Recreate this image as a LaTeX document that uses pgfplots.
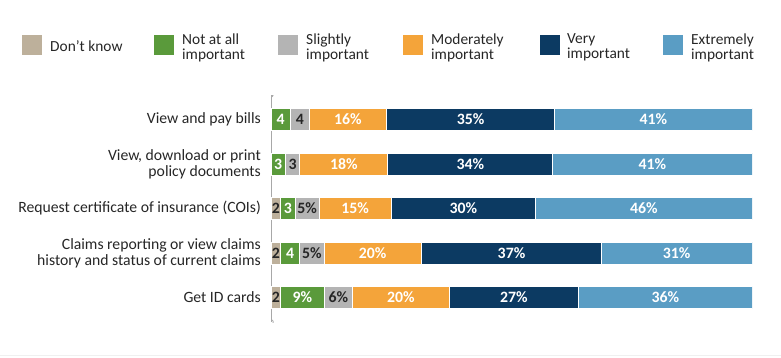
\documentclass[border=0pt]{standalone}
\usepackage{fontspec}
\setmainfont{Carlito}
\usepackage{pgfplots}
\usepackage{pgfplotstable}
\pgfplotsset{compat=1.18}
\definecolor{cdk}{HTML}{BDB09B}
\definecolor{cna}{HTML}{5A9A3B}
\definecolor{csl}{HTML}{B4B4B4}
\definecolor{cmo}{HTML}{F4A43A}
\definecolor{cve}{HTML}{0C3A62}
\definecolor{cex}{HTML}{5A9DC4}
\definecolor{cax}{HTML}{A8A8A8}
\definecolor{ctxt}{HTML}{262626}

\pgfplotstableread{
y dk na sl mo ve ex
0 0 4 4 16 35 41
1 0 3 3 18.3 34.3 41.4
2 2 3 5 15 30 45
3 2 4 5 20.3 37.4 31.3
4 2 9 6 20 27 36
}\bars

\pgfplotstableread{
y mid lab
2 1 2
3 1 2
4 1 2
}\labdk
\pgfplotstableread{
y mid lab
0 2 4
1 1.5 3
2 3.5 3
3 4 4
4 6.5 9\%
}\labna
\pgfplotstableread{
y mid lab
0 6 4
1 4.5 3
2 7.5 5\%
3 8.5 5\%
4 14 6\%
}\labsl
\pgfplotstableread{
y mid lab
0 16 16\%
1 15.15 18\%
2 17.5 15\%
3 21.15 20\%
4 27 20\%
}\labmo
\pgfplotstableread{
y mid lab
0 41.5 35\%
1 41.45 34\%
2 40 30\%
3 50 37\%
4 50.5 27\%
}\labve
\pgfplotstableread{
y mid lab
0 79.5 41\%
1 79.3 41\%
2 77.5 46\%
3 84.35 31\%
4 82 36\%
}\labex

\pgfplotsset{base/.style={scale only axis, width=481pt, height=227pt,
  xmin=0, xmax=100, ymin=-0.55, ymax=4.55, y dir=reverse,
  at={(271pt,35pt)}, anchor=south west}}
\tikzset{lab/.style={anchor=center, inner sep=0pt, font=\bfseries\fontsize{15.8}{15.8}\selectfont}}

\begin{document}
\begin{tikzpicture}[x=1pt,y=1pt]
\useasboundingbox (0,0) rectangle (781,357);
\draw[gray!12, line width=1pt] (0,1.5) -- (781,1.5);
% legend
\tikzset{lt/.style={anchor=west, align=left, inner sep=0pt, text=ctxt, font=\fontsize{15.4}{15.2}\selectfont}}
\fill[cdk] (22,302) rectangle ++(20,20);
\node[lt] at (50,311) {Don’t know};
\fill[cna] (154,302) rectangle ++(20,20);
\node[lt] at (182,309.5) {Not at all\\important};
\fill[csl] (278,302) rectangle ++(20,20);
\node[lt] at (306,309.5) {Slightly\\important};
\fill[cmo] (403,302) rectangle ++(20,20);
\node[lt] at (431,309.5) {Moderately\\important};
\fill[cve] (540,302) rectangle ++(20,20);
\node[lt] at (567,309.5) {Very\\important};
\fill[cex] (663,302) rectangle ++(20,20);
\node[lt] at (691,309.5) {Extremely\\important};

\begin{axis}[base, xbar stacked, bar width=22pt,
  hide x axis, axis y line*=left, y axis line style={draw=none},
  ytick={0,1,2,3,4}, major tick length=0pt,
  yticklabels={View and pay bills, {View, download or print\\policy documents}, Request certificate of insurance (COIs), {Claims reporting or view claims\\history and status of current claims}, Get ID cards},
  yticklabel style={align=right, text=ctxt, font=\fontsize{15.7}{16}\selectfont, inner sep=0pt, xshift=-10pt}]
\addplot[fill=cdk, draw=white, line width=0.8pt] table[x=dk, y=y] {\bars};
\addplot[fill=cna, draw=white, line width=0.8pt] table[x=na, y=y] {\bars};
\addplot[fill=csl, draw=white, line width=0.8pt] table[x=sl, y=y] {\bars};
\addplot[fill=cmo, draw=white, line width=0.8pt] table[x=mo, y=y] {\bars};
\addplot[fill=cve, draw=white, line width=0.8pt] table[x=ve, y=y] {\bars};
\addplot[fill=cex, draw=white, line width=0.8pt] table[x=ex, y=y] {\bars};
\draw[cax, line width=1.3pt] (rel axis cs:0,0) -- (rel axis cs:0,1);
\filldraw[cax, fill=cax] (rel axis cs:0,1) circle (2.3pt);
\filldraw[cax, fill=white, line width=0.8pt] (rel axis cs:0,0) circle (2.3pt);
\end{axis}

\begin{axis}[base, hide axis, clip=false]
\addplot[draw=none, mark=none, nodes near coords, point meta=explicit symbolic, nodes near coords style={lab, text=ctxt}] table[x=mid, y=y, meta=lab] {\labdk};
\addplot[draw=none, mark=none, nodes near coords, point meta=explicit symbolic, nodes near coords style={lab, text=white}] table[x=mid, y=y, meta=lab] {\labna};
\addplot[draw=none, mark=none, nodes near coords, point meta=explicit symbolic, nodes near coords style={lab, text=ctxt}] table[x=mid, y=y, meta=lab] {\labsl};
\addplot[draw=none, mark=none, nodes near coords, point meta=explicit symbolic, nodes near coords style={lab, text=white}] table[x=mid, y=y, meta=lab] {\labmo};
\addplot[draw=none, mark=none, nodes near coords, point meta=explicit symbolic, nodes near coords style={lab, text=white}] table[x=mid, y=y, meta=lab] {\labve};
\addplot[draw=none, mark=none, nodes near coords, point meta=explicit symbolic, nodes near coords style={lab, text=white}] table[x=mid, y=y, meta=lab] {\labex};
\end{axis}
\end{tikzpicture}
\end{document}
